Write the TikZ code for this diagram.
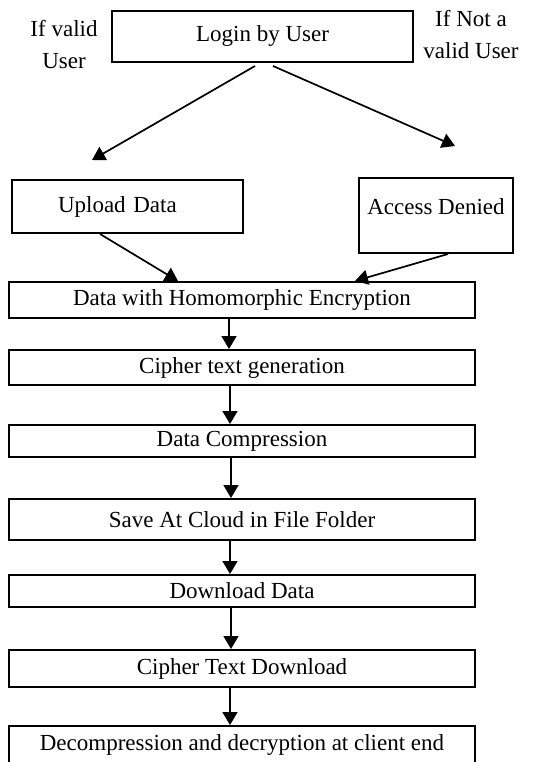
\documentclass[tikz,border=0pt]{standalone}
\usepackage{fontspec}
\setmainfont{Liberation Serif}
\usetikzlibrary{arrows.meta}
\begin{document}
\begin{tikzpicture}[x=1pt,y=-1pt,
  box/.style={draw=black,line width=2pt,inner sep=0pt,
    font=\fontsize{23pt}{28pt}\selectfont},
  stage/.style={box,minimum width=466pt},
  flow/.style={line width=1.7pt,-{Triangle[width=15pt,length=13pt]}},
  note/.style={align=center,inner sep=0pt,font=\fontsize{23pt}{32pt}\selectfont}]
\useasboundingbox (0,0) rectangle (536,762);
\fill[white] (0,0) rectangle (536,762);

% login and the two branches
\node[box,minimum width=301pt,minimum height=51pt] (login) at (262.5,36.5) {Login by User};
\node[note] (validlbl) at (64,45) {If valid\\User};
\node[note] (invalidlbl) at (471,35) {If Not a\\valid User};

\node[box,minimum height=53pt,text width=139pt,inner xsep=46pt,align=left]
  (upload) at (127.5,206.5) {Upload Data};
\node[box,minimum width=154pt,text height=36pt,text depth=39pt]
  (denied) at (436,215.5) {Access Denied};

% processing chain
\node[stage,minimum height=36pt] (homo)   at (242,300)   {Data with Homomorphic Encryption};
\node[stage,minimum height=35pt] (cipher) at (242,367.5) {Cipher text generation};
\node[stage,minimum height=32pt] (comp)   at (242,441)   {Data Compression};
\node[stage,minimum height=41pt] (save)   at (242,519.5) {Save At Cloud in File Folder};
\node[stage,minimum height=32pt] (down)   at (242,591)   {Download Data};
\node[stage,minimum height=37pt] (ctd)    at (242,668.5) {Cipher Text Download};
\node[stage,minimum height=38pt] (decomp) at (242,745)   {Decompression and decryption at client end};

% connectors
\coordinate (validtip) at (92,160);
\coordinate (invalidtip) at (455,146);
\draw[flow] ([xshift=-7.5pt,yshift=-3pt]login.south) -- (validtip);
\draw[flow] ([xshift=10.5pt,yshift=-3pt]login.south) -- (invalidtip);
\draw[flow] ([xshift=-27.5pt]upload.south) -- ([xshift=-64pt]homo.north);
\draw[flow] ([xshift=12pt]denied.south) -- ([xshift=113pt]homo.north);
\draw[flow] ([xshift=-13pt]homo.south)   -- ([xshift=-13pt]cipher.north);
\draw[flow] ([xshift=-12pt]cipher.south) -- ([xshift=-12pt]comp.north);
\draw[flow] ([xshift=-11pt]comp.south)   -- ([xshift=-11pt]save.north);
\draw[flow] ([xshift=-12pt]save.south)   -- ([xshift=-12pt]down.north);
\draw[flow] ([xshift=-11pt]down.south)   -- ([xshift=-11pt]ctd.north);
\draw[flow] ([xshift=-12pt]ctd.south)    -- ([xshift=-12pt]decomp.north);
\end{tikzpicture}
\end{document}
